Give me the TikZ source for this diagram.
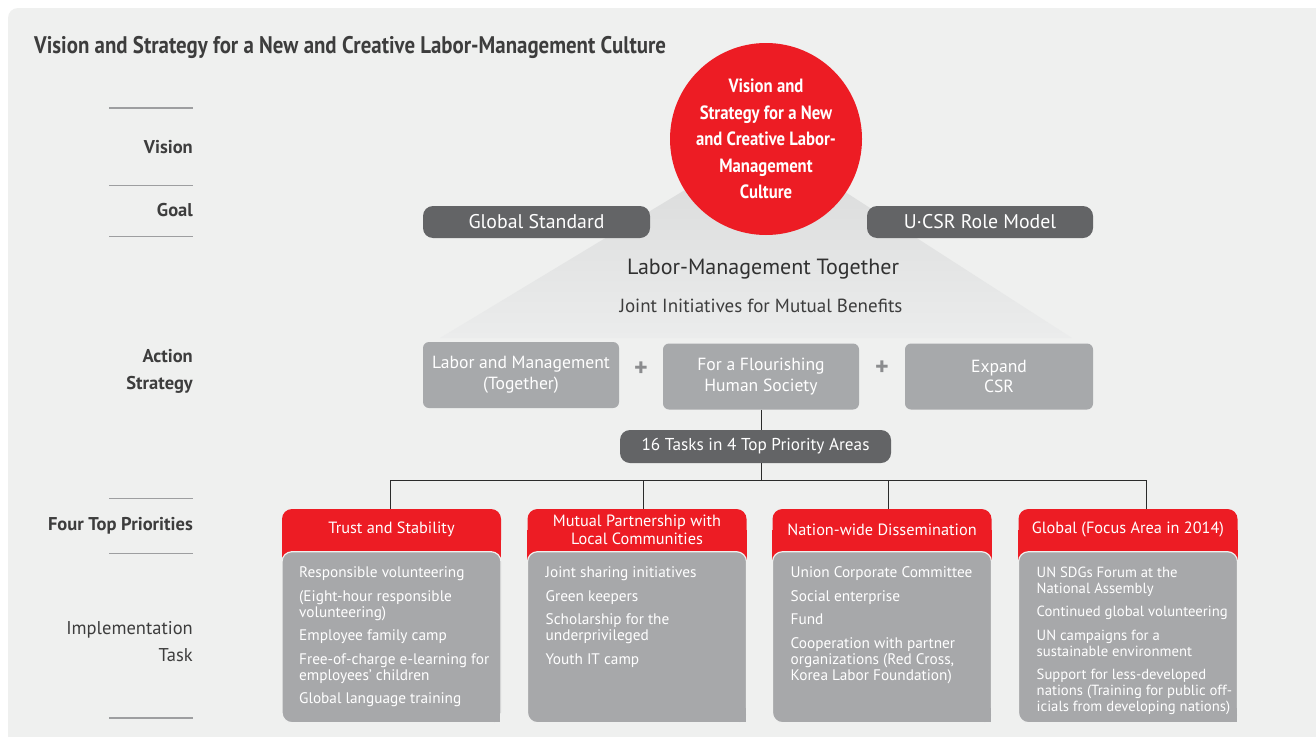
\documentclass[tikz,border=0pt]{standalone}
\usepackage{fontspec}
\setmainfont{PT Sans}
\newfontfamily\condfont[FakeStretch=0.87]{PT Sans}
\usetikzlibrary{positioning,calc,backgrounds}
\definecolor{panelgray}{HTML}{EFF0EF}
\definecolor{rulegray}{HTML}{9D9EA0}
\definecolor{labeltext}{HTML}{3D3D3D}
\definecolor{visred}{HTML}{ED1C24}
\definecolor{pillgray}{HTML}{636466}
\definecolor{actgray}{HTML}{A7A9AB}
\definecolor{taskgray}{HTML}{A7A8AA}
\definecolor{plusgray}{HTML}{8B8C8E}
\definecolor{conngray}{HTML}{2B2B2B}
\definecolor{tritop}{HTML}{D8D9D9}
\definecolor{tribot}{HTML}{EBECEC}
\tikzset{
  sidelbl/.style={anchor=east, align=right, inner sep=0pt, text=labeltext,
    font=\bfseries\fontsize{18.5}{27}\selectfont},
  goalpill/.style={rounded corners=10pt, fill=pillgray, text=white, minimum height=32,
    inner sep=0pt, font=\fontsize{19.8}{22}\selectfont},
  actbox/.style={rounded corners=6pt, fill=actgray, text=white, minimum width=196,
    minimum height=66, inner sep=0pt, align=center, font=\fontsize{17.6}{20.5}\selectfont},
  plus/.style={text=plusgray, inner sep=0pt, font=\bfseries\fontsize{26}{26}\selectfont},
  tab/.style={rounded corners=10pt, fill=visred, text=white, minimum width=219,
    minimum height=41, inner sep=0pt, align=center, font=\fontsize{16.3}{19}\selectfont},
  taskbox/.style={rounded corners=10pt, fill=taskgray, draw=panelgray, line width=1.2pt,
    minimum width=219, minimum height=171, inner sep=0pt, outer sep=0pt, anchor=north},
  tasktext/.style={anchor=north west, align=left, inner sep=0pt, text=white,
    font=\fontsize{15.3}{16}\selectfont},
  conn/.style={draw=conngray, line width=0.9pt}
}
\begin{document}
\begin{tikzpicture}[x=1pt,y=-1pt]
\useasboundingbox (0,0) rectangle (1316,736);
\begin{scope}[on background layer]
  \fill[white] (0,0) rectangle (1316,736);
  \fill[panelgray, rounded corners=10pt] (8,8) rectangle (1340,760);
\end{scope}
% title
\node[anchor=west, inner sep=0pt, text=labeltext, font=\condfont\bfseries\fontsize{24}{28}\selectfont]
  (title) at (34,47) {Vision and Strategy for a New and Creative Labor-Management Culture};
% left rules and labels
\foreach \y/\w in {108/2.5, 185/1, 236/1, 498/1, 553/1, 718/2.5}
  \draw[rulegray, line width=\w pt] (109,\y) -- (193,\y);
\node[sidelbl] (lvision) at (193,147) {Vision};
\node[sidelbl] (lgoal) at (193,210) {Goal};
\node[sidelbl] (laction) at (193,371) {Action\\Strategy};
\node[sidelbl] (lfour) at (193,526) {Four Top Priorities};
\node[sidelbl, font=\fontsize{18.5}{27}\selectfont] (limpl) at (193,642) {Implementation\\Task};
% triangle behind the vision
\shade[top color=tritop, bottom color=tribot] (766,141) -- (440,338) -- (1072,338) -- cycle;
% vision circle
\node[circle, fill=visred, text=white, minimum size=192, inner sep=0pt, align=center,
  font=\condfont\bfseries\fontsize{19.2}{26.5}\selectfont]
  (vision) at (766,139) {Vision and\\Strategy for a New\\and Creative Labor-\\Management\\Culture};
% goals
\node[goalpill, minimum width=227] (gstd) at (536.5,222) {Global Standard};
\node[goalpill, minimum width=226] (ucsr) at (980,222) {U·CSR Role Model};
\node[text=labeltext!80!black, inner sep=0pt, font=\fontsize{22}{26}\selectfont]
  (together) at (763,269) {Labor-Management Together};
\node[text=labeltext, inner sep=0pt, font=\fontsize{19}{22}\selectfont]
  (joint) at (761,306) {Joint Initiatives for Mutual Benefits};
% action strategy
\node[actbox] (act1) at (521,375) {Labor and Management\\(Together)};
\node[actbox] (act2) at (761,376.5) {For a Flourishing\\Human Society};
\node[actbox, minimum width=188] (act3) at (999,376.5) {Expand\\CSR};
\node[plus] (plus1) at ($(act1.east)!0.5!(act2.west)+(0,-7)$) {+};
\node[plus] (plus2) at ($(act2.east)!0.5!(act3.west)+(0,-8)$) {+};
\node[goalpill, minimum width=271, minimum height=33, font=\fontsize{17.2}{20}\selectfont]
  (tasks) at (755.5,446.5) {16 Tasks in 4 Top Priority Areas};
% connectors
\coordinate (hub) at (761,480);
\coordinate (drop1) at (390,480);
\coordinate (drop2) at (643,480);
\coordinate (drop3) at (888,480);
\coordinate (drop4) at (1146,480);
\draw[conn] (act2.south) -- (act2.south |- tasks.north);
\draw[conn] (act2.south |- tasks.south) -- (hub);
\draw[conn] (drop1) -- (drop4);
% priorities
\node[tab] (tab1) at (391.5,529.5) {Trust and Stability};
\node[tab] (tab2) at (637,529.5) {Mutual Partnership with\\[-1pt]Local Communities};
\node[tab] (tab3) at (882,529.5) {Nation-wide Dissemination};
\node[tab] (tab4) at (1128,529.5) {Global (Focus Area in 2014)};
\foreach \i in {1,...,4}
  \draw[conn] (drop\i) -- (drop\i |- tab\i.north);
\begin{scope}[on background layer]
  \foreach \i in {1,...,4}
    \fill[visred] (tab\i.west) rectangle ($(tab\i.south east)+(0,12)$);
\end{scope}
% task boxes
\foreach \i in {1,...,4}{
  \node[taskbox] (task\i) at ($(tab\i.south)+(0,1.5)$) {};
  \fill[taskgray] ($(task\i.south east)+(-0.6,-0.6)$) rectangle ++(-14,-14);
}
\node[tasktext] (list1) at ($(task1.north west)+(17,15)$)
  {Responsible volunteering\\[7.5pt](Eight-hour responsible\\volunteering)\\[7.5pt]Employee family camp\\[7.5pt]Free-of-charge e-learning for\\employees’ children\\[7.5pt]Global language training};
\node[tasktext] (list2) at ($(task2.north west)+(18,15)$)
  {Joint sharing initiatives\\[7.5pt]Green keepers\\[7.5pt]Scholarship for the\\underprivileged\\[7.5pt]Youth IT camp};
\node[tasktext] (list3) at ($(task3.north west)+(18,15)$)
  {Union Corporate Committee\\[7.5pt]Social enterprise\\[7.5pt]Fund\\[7.5pt]Cooperation with partner\\organizations (Red Cross,\\Korea Labor Foundation)};
\node[tasktext, font=\fontsize{14.7}{16}\selectfont] (list4) at ($(task4.north west)+(18,15)$)
  {UN SDGs Forum at the\\National Assembly\\[7.5pt]Continued global volunteering\\[7.5pt]UN campaigns for a\\sustainable environment\\[7.5pt]Support for less-developed\\nations (Training for public off-\\icials from developing nations)};
\end{tikzpicture}
\end{document}
